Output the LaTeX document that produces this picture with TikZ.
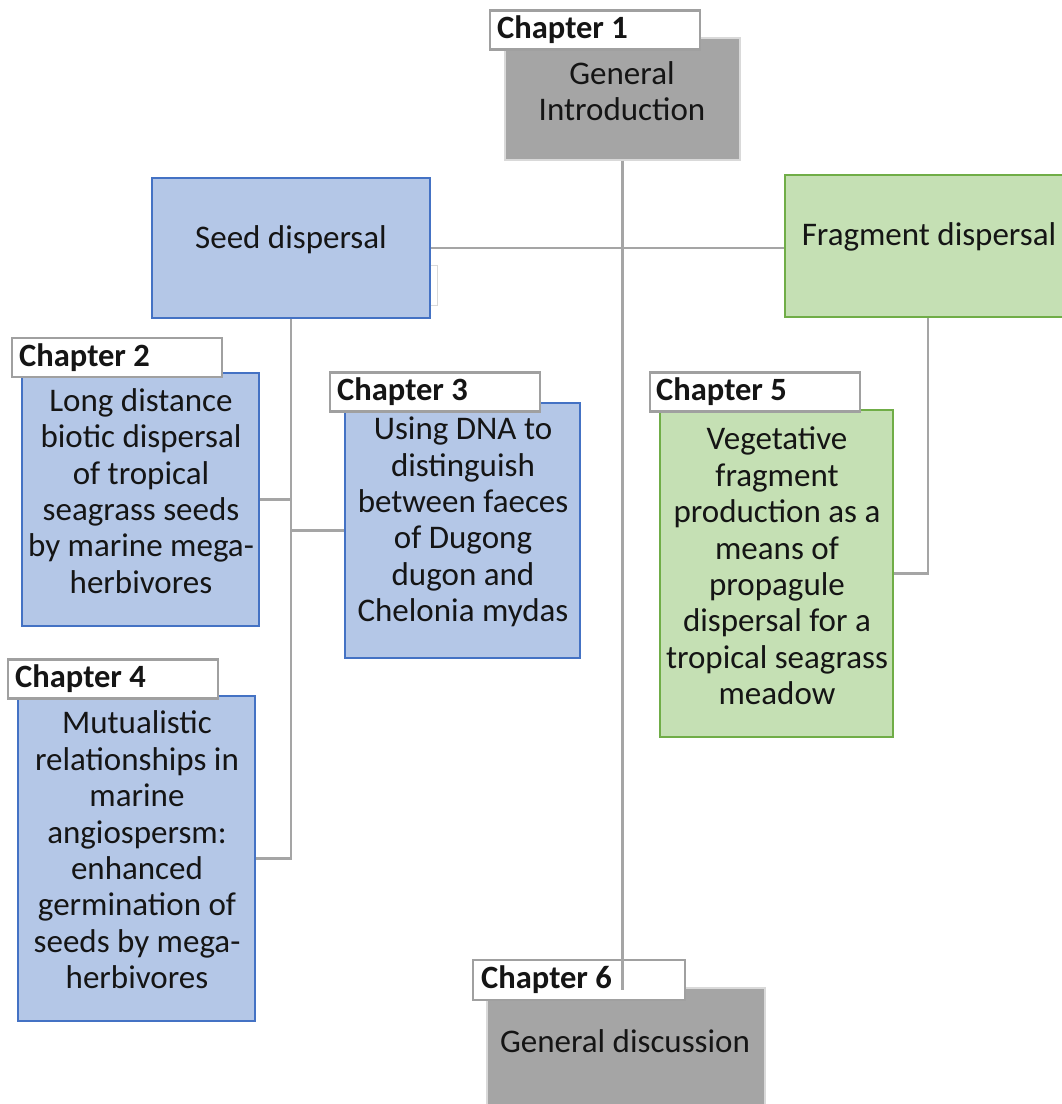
\documentclass[tikz,border=0pt]{standalone}
\usepackage{fontspec}
\setmainfont{Carlito}
\definecolor{boxgray}{HTML}{A5A5A5}
\definecolor{seedfill}{HTML}{B4C7E7}
\definecolor{seedline}{HTML}{4472C4}
\definecolor{fragfill}{HTML}{C5E0B4}
\definecolor{fragline}{HTML}{70AD47}
\definecolor{tagline}{HTML}{A0A0A0}
\definecolor{ink}{HTML}{151515}
\begin{document}
\begin{tikzpicture}[x=1pt,y=-1pt,
  conn/.style={draw=boxgray, line width=2.6pt},
  graybox/.style={rectangle, fill=boxgray, draw=white!85!black, line width=1.2pt, inner sep=0pt},
  seedbox/.style={rectangle, fill=seedfill, draw=seedline, line width=2pt, inner sep=0pt},
  fragbox/.style={rectangle, fill=fragfill, draw=fragline, line width=2pt, inner sep=0pt},
  tag/.style={rectangle, fill=white, draw=tagline, line width=2.2pt, inner sep=0pt,
    minimum width=210pt, minimum height=39pt},
  tagtext/.style={anchor=west, inner sep=0pt, text=ink, font=\fontsize{32.5}{36}\selectfont\bfseries},
  txt/.style={align=center, inner sep=0pt, text=ink, font=\fontsize{33}{36.4}\selectfont}]
\clip (0,0) rectangle (1062,1104);
\fill[white] (0,0) rectangle (1062,1104);

% chapter boxes
\node[graybox, minimum width=235pt, minimum height=122pt] (intro) at (622.5,99) {};
\node[rectangle, fill=white, draw=white!85!black, line width=1pt, minimum width=12pt, minimum height=40pt] (stub) at (431,285) {};
\node[seedbox, minimum width=278pt, minimum height=140pt] (seed) at (291,248) {};
\node[fragbox, minimum width=286pt, minimum height=142pt] (frag) at (928,246) {};
\node[seedbox, minimum width=237pt, minimum height=253pt] (ch2) at (140.5,499.5) {};
\node[seedbox, minimum width=235pt, minimum height=255pt] (ch3) at (462.5,530.5) {};
\node[seedbox, minimum width=237pt, minimum height=325pt] (ch4) at (136.5,858.5) {};
\node[fragbox, minimum width=233pt, minimum height=327pt] (ch5) at (776.5,573.5) {};
\node[graybox, minimum width=278pt, minimum height=140pt] (disc) at (626,1058) {};

% box texts
\node[txt] (introtxt) at (622,91) {General\\Introduction};
\node[txt] (seedtxt) at (291,240) {Seed dispersal};
\node[txt] (fragtxt) at (929,237) {Fragment dispersal};
\node[txt] (ch2txt) at (141,491) {Long distance\\biotic dispersal\\of tropical\\seagrass seeds\\by marine mega-\\herbivores};
\node[txt] (ch3txt) at (463,522) {Using DNA to\\distinguish\\between faeces\\of Dugong\\dugon and\\Chelonia mydas};
\node[txt] (ch4txt) at (137,850) {Mutualistic\\relationships in\\marine\\angiospersm:\\enhanced\\germination of\\seeds by mega-\\herbivores};
\node[txt] (ch5txt) at (777,566) {Vegetative\\fragment\\production as a\\means of\\propagule\\dispersal for a\\tropical seagrass\\meadow};
\node[txt] (disctxt) at (625,1041) {General discussion};

% chapter tags
\node[tag] (tag1) at (595,30) {};
\node[tagtext] (tag1txt) at (497,30) {Chapter 1};
\node[tag] (tag2) at (117,357.5) {};
\node[tagtext] (tag2txt) at (19,357.5) {Chapter 2};
\node[tag] (tag3) at (435,392) {};
\node[tagtext] (tag3txt) at (337,392) {Chapter 3};
\node[tag] (tag4) at (113,679) {};
\node[tagtext] (tag4txt) at (15,679) {Chapter 4};
\node[tag] (tag5) at (755,392) {};
\node[tagtext] (tag5txt) at (656,392) {Chapter 5};
\node[tag, minimum width=212pt, minimum height=40pt] (tag6) at (579,980) {};
\node[tagtext] (tag6txt) at (481,980) {Chapter 6};

% connectors
\draw[conn] (intro.south) -- ([yshift=-3pt]intro.south |- disc.north);
\draw[conn] (seed.east) -- (seed.east -| frag.west);
\draw[conn] (seed.south) -- (seed.south |- ch4.east) -- (ch4.east);
\draw[conn] (ch2.east) -- (ch2.east -| seed.south);
\draw[conn] (ch3.west -| seed.south) -- (ch3.west);
\draw[conn] (frag.south) -- (frag.south |- ch5.east) -- (ch5.east);
\end{tikzpicture}
\end{document}
